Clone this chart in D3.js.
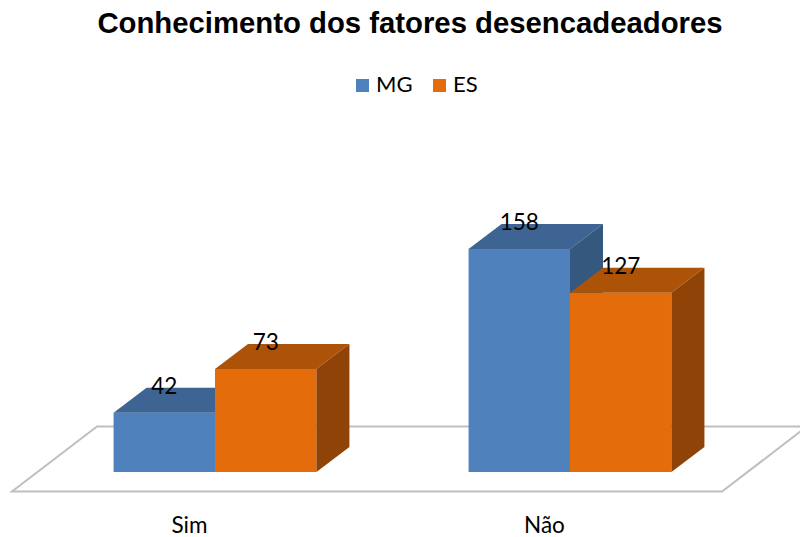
<!DOCTYPE html>
<html>
<head>
<meta charset="utf-8">
<script src="https://cdn.jsdelivr.net/npm/d3@7"></script>
<style>
  html, body { margin: 0; padding: 0; background: #fff; }
  svg { display: block; }
</style>
</head>
<body>
<svg id="chart" width="800" height="537"></svg>
<script>
const title = "Conhecimento dos fatores desencadeadores";
const categories = ["Sim", "Não"];
const seriesNames = ["MG", "ES"];
const mgValues = [42, 158];
const esValues = [73, 127];
const seriesValues = [mgValues, esValues];
const colorsFront = ["#4f81bd", "#e46c0a"];
const colorsTop = ["#3d6492", "#ad5308"];
const colorsSide = ["#35587f", "#8f4306"];

const svg = d3.select("#chart");

// geometry
const floorFrontY = 491.5;
const floorLeft = 12, floorRight = 722;
const floorDX = 85, floorDY = -65;
const barOffX = 25.5, barOffY = -19.5;   // bar front plane offset from floor front
const depthX = 33, depthY = -25;          // bar depth

const x0 = d3.scaleBand().domain(categories).range([floorLeft, floorRight]).paddingInner(0).paddingOuter(0);
const x1 = d3.scaleBand().domain(seriesNames).range([0, x0.bandwidth()]).paddingInner(0).paddingOuter(0.75);
const baseY = floorFrontY + barOffY;
const y = d3.scaleLinear().domain([0, 200]).range([baseY, baseY - 200 * 1.411]);

// title
svg.append("text")
  .attr("x", 410).attr("y", 33)
  .attr("text-anchor", "middle")
  .attr("font-family", "'Liberation Sans', Arial, sans-serif")
  .attr("font-weight", "bold")
  .attr("font-size", "29.3px")
  .attr("fill", "#000")
  .text(title);

// legend
const legendPos = [356, 433];
seriesNames.forEach((name, i) => {
  const g = svg.append("g").attr("transform", `translate(${legendPos[i]},79)`);
  g.append("rect").attr("width", 13).attr("height", 13).attr("fill", colorsFront[i]);
  g.append("text").attr("x", 20).attr("y", 13)
    .attr("font-family", "Lato, 'Open Sans', sans-serif")
    .attr("font-size", "22px").attr("fill", "#000").text(name);
});

// floor
const fl = [
  [floorLeft, floorFrontY],
  [floorRight, floorFrontY],
  [floorRight + floorDX, floorFrontY + floorDY],
  [floorLeft + floorDX, floorFrontY + floorDY]
];
svg.append("path")
  .attr("d", d3.line()(fl) + "Z")
  .attr("fill", "none")
  .attr("stroke", "#bfbfbf")
  .attr("stroke-width", 2);

// bars
const bars = [];
categories.forEach((c, ci) => {
  seriesNames.forEach((s, si) => {
    bars.push({cat: c, series: s, si: si, value: seriesValues[si][ci]});
  });
});

const gBars = svg.append("g");
bars.forEach(d => {
  const xl = x0(d.cat) + x1(d.series) + barOffX;
  const xr = xl + x1.bandwidth();
  const yt = y(d.value);
  const yb = y(0);
  const g = gBars.append("g");
  g.append("path").attr("d", d3.line()([[xl, yb], [xr, yb], [xr, yt], [xl, yt]]) + "Z")
    .attr("fill", colorsFront[d.si]);
  g.append("path").attr("d", d3.line()([[xl, yt], [xr, yt], [xr + depthX, yt + depthY], [xl + depthX, yt + depthY]]) + "Z")
    .attr("fill", colorsTop[d.si]);
  g.append("path").attr("d", d3.line()([[xr, yb], [xr + depthX, yb + depthY], [xr + depthX, yt + depthY], [xr, yt]]) + "Z")
    .attr("fill", colorsSide[d.si]);
});

// value labels
bars.forEach(d => {
  const xc = x0(d.cat) + x1(d.series) + barOffX + x1.bandwidth() / 2;
  svg.append("text")
    .attr("x", xc).attr("y", y(d.value) - 19)
    .attr("text-anchor", "middle")
    .attr("font-family", "Lato, 'Open Sans', sans-serif")
    .attr("font-size", "22.5px").attr("fill", "#000")
    .text(d.value);
});

// category labels
categories.forEach(c => {
  svg.append("text")
    .attr("x", x0(c) + x0.bandwidth() / 2).attr("y", 533)
    .attr("text-anchor", "middle")
    .attr("font-family", "Lato, 'Open Sans', sans-serif")
    .attr("font-size", "22.5px").attr("fill", "#000")
    .text(c);
});
</script>
</body>
</html>
